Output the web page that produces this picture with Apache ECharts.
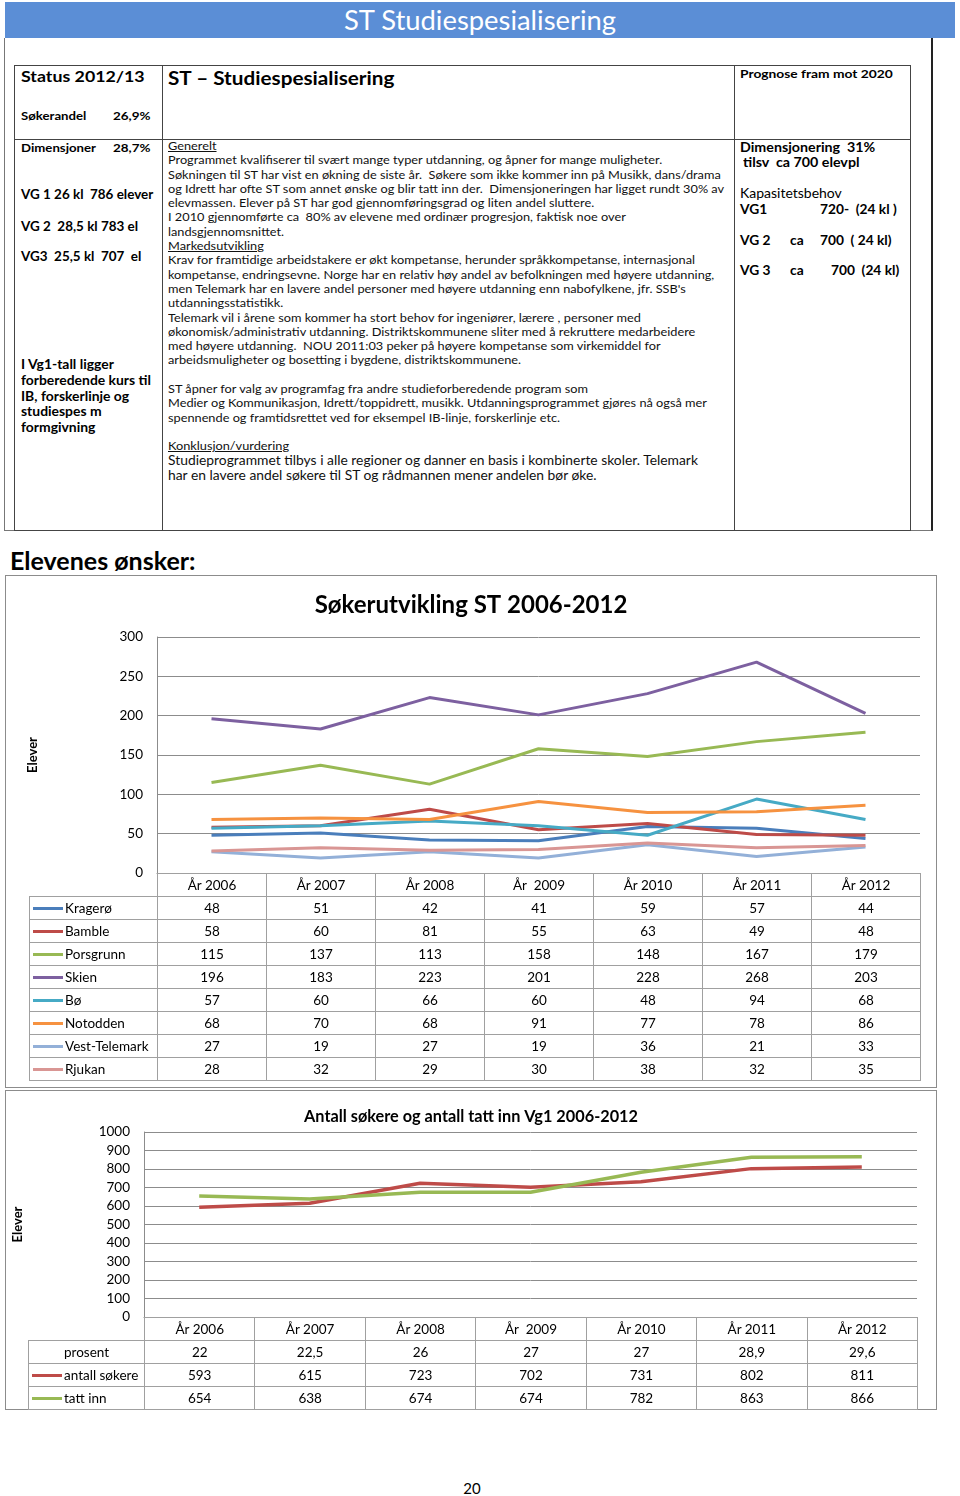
<!DOCTYPE html>
<html>
<head>
<meta charset="utf-8">
<script src="https://cdn.jsdelivr.net/npm/echarts@6/dist/echarts.min.js"></script>
<style>
  html, body { margin: 0; padding: 0; background: #fff; }
  body { position: relative; width: 960px; height: 1496px; overflow: hidden; font-family: Lato, 'Open Sans', sans-serif; color: #000; }
  .abs { position: absolute; }
  .t { position: absolute; white-space: pre; line-height: 16px; transform-origin: 0 0; }
  .b { font-weight: bold; }
  .u { text-decoration: underline; }
  .body-text { position: absolute; white-space: pre; font-size: 11.6px; line-height: 14.3px; color: #111; transform-origin: 0 0; transform: scaleX(1.1); }
  .box { position: absolute; box-sizing: border-box; border: 1px solid #8c8c8c; background: #fff; }
  table.dt { position: absolute; border-collapse: collapse; table-layout: fixed; font-size: 13.5px; }
  table.dt td { border: 1px solid #a0a0a0; height: 22px; padding: 0; text-align: center; white-space: pre; overflow: hidden; }
  table.dt td.blank { border: none; }
  table.dt td.lab { text-align: left; }
  .sw { display: inline-block; width: 30px; height: 3px; vertical-align: middle; margin: 0 2px 0 3px; position: relative; top: -1px; }
</style>
</head>
<body>

<!-- header bar -->
<div class="abs" style="left:5px;top:2px;width:950px;height:36px;background:#5b8ed6;"></div>
<div class="t" style="left:5px;top:4px;width:950px;text-align:center;color:#fff;font-size:27.4px;line-height:32px;">ST Studiespesialisering</div>

<!-- outer frame -->
<div class="abs" style="left:4px;top:38px;width:926px;height:492px;border-left:1px solid #777;border-right:2px solid #222;border-bottom:1px solid #777;"></div>
<!-- inner table frame -->
<div class="abs" style="left:14px;top:65px;width:895px;height:464px;border:1px solid #444;"></div>
<div class="abs" style="left:162px;top:65px;width:1px;height:465px;background:#444;"></div>
<div class="abs" style="left:734px;top:65px;width:1px;height:465px;background:#444;"></div>
<div class="abs" style="left:14px;top:139px;width:896px;height:1px;background:#444;"></div>

<!-- left column -->
<div class="t b" style="left:21px;top:67px;font-size:16px;line-height:18px;transform:scaleX(1.11);">Status 2012/13</div>
<div class="t b" style="left:21px;top:108px;font-size:12px;transform:scaleX(1.1);">Søkerandel</div>
<div class="t b" style="left:113px;top:108px;font-size:12px;transform:scaleX(1.12);">26,9%</div>
<div class="t b" style="left:21px;top:140px;font-size:12px;transform:scaleX(1.1);">Dimensjoner</div>
<div class="t b" style="left:113px;top:140px;font-size:12px;transform:scaleX(1.12);">28,7%</div>
<div class="t b" style="left:21px;top:186px;font-size:12.8px;transform:scaleX(1.05);">VG 1 26 kl  786 elever</div>
<div class="t b" style="left:21px;top:218px;font-size:12.8px;transform:scaleX(1.05);">VG 2  28,5 kl 783 el</div>
<div class="t b" style="left:21px;top:248px;font-size:12.8px;transform:scaleX(1.05);">VG3  25,5 kl  707  el</div>
<div class="t b" style="left:21px;top:357px;font-size:13px;line-height:15.8px;transform:scaleX(1.07);">I Vg1-tall ligger
forberedende kurs til
IB, forskerlinje og
studiespes m
formgivning</div>

<!-- middle column -->
<div class="t b" style="left:168px;top:68px;font-size:18px;line-height:20px;transform:scaleX(1.15);">ST – Studiespesialisering</div>
<div class="body-text" style="left:168px;top:139px;"><span class="u">Generelt</span>
Programmet kvalifiserer til svært mange typer utdanning, og åpner for mange muligheter.
Søkningen til ST har vist en økning de siste år.  Søkere som ikke kommer inn på Musikk, dans/drama
og Idrett har ofte ST som annet ønske og blir tatt inn der.  Dimensjoneringen har ligget rundt 30% av
elevmassen. Elever på ST har god gjennomføringsgrad og liten andel sluttere.
I 2010 gjennomførte ca  80% av elevene med ordinær progresjon, faktisk noe over
landsgjennomsnittet.
<span class="u">Markedsutvikling</span>
Krav for framtidige arbeidstakere er økt kompetanse, herunder språkkompetanse, internasjonal
kompetanse, endringsevne. Norge har en relativ høy andel av befolkningen med høyere utdanning,
men Telemark har en lavere andel personer med høyere utdanning enn nabofylkene, jfr. SSB's
utdanningsstatistikk.
Telemark vil i årene som kommer ha stort behov for ingeniører, lærere , personer med
økonomisk/administrativ utdanning. Distriktskommunene sliter med å rekruttere medarbeidere
med høyere utdanning.  NOU 2011:03 peker på høyere kompetanse som virkemiddel for
arbeidsmuligheter og bosetting i bygdene, distriktskommunene.

ST åpner for valg av programfag fra andre studieforberedende program som
Medier og Kommunikasjon, Idrett/toppidrett, musikk. Utdanningsprogrammet gjøres nå også mer
spennende og framtidsrettet ved for eksempel IB-linje, forskerlinje etc.

<span class="u">Konklusjon/vurdering</span></div>
<div class="body-text" style="left:168px;top:453px;font-size:12.6px;line-height:15px;">Studieprogrammet tilbys i alle regioner og danner en basis i kombinerte skoler. Telemark
har en lavere andel søkere til ST og rådmannen mener andelen bør øke.</div>

<!-- right column -->
<div class="t b" style="left:740px;top:66px;font-size:12px;transform:scaleX(1.15);">Prognose fram mot 2020</div>
<div class="t b" style="left:740px;top:140px;font-size:12.5px;transform:scaleX(1.14);">Dimensjonering  31%</div>
<div class="t b" style="left:743px;top:155px;font-size:12.5px;transform:scaleX(1.14);">tilsv  ca 700 elevpl</div>
<div class="t" style="left:740px;top:186px;font-size:12.5px;transform:scaleX(1.12);">Kapasitetsbehov</div>
<div class="t b" style="left:740px;top:202px;font-size:12.5px;transform:scaleX(1.1);">VG1</div>
<div class="t b" style="left:820px;top:202px;font-size:12.5px;transform:scaleX(1.1);">720-  (24 kl )</div>
<div class="t b" style="left:740px;top:233px;font-size:12.5px;transform:scaleX(1.1);">VG 2</div>
<div class="t b" style="left:790px;top:233px;font-size:12.5px;transform:scaleX(1.1);">ca</div>
<div class="t b" style="left:820px;top:233px;font-size:12.5px;transform:scaleX(1.1);">700  ( 24 kl)</div>
<div class="t b" style="left:740px;top:263px;font-size:12.5px;transform:scaleX(1.1);">VG 3</div>
<div class="t b" style="left:790px;top:263px;font-size:12.5px;transform:scaleX(1.1);">ca</div>
<div class="t b" style="left:831px;top:263px;font-size:12.5px;transform:scaleX(1.1);">700  (24 kl)</div>

<div class="t b" style="left:10px;top:546px;font-size:25px;line-height:28px;">Elevenes ønsker:</div>

<!-- chart 1 -->
<div class="box" style="left:5px;top:575px;width:932px;height:513px;">
  <div id="c1" style="position:absolute;left:0;top:0;width:930px;height:511px;"></div>
</div>
<table class="dt" id="tab1" style="left:29px;top:873px;"></table>

<!-- chart 2 -->
<div class="box" style="left:5px;top:1090px;width:932px;height:320px;">
  <div id="c2" style="position:absolute;left:0;top:0;width:930px;height:318px;"></div>
</div>
<table class="dt" id="tab2" style="left:28px;top:1317px;"></table>

<div class="t" style="left:440px;top:1480px;width:64px;text-align:center;font-size:15px;">20</div>

<script>
// chart 1 data: søkere per region
const years = ['År 2006', 'År 2007', 'År 2008', 'År  2009', 'År 2010', 'År 2011', 'År 2012'];
const kragero = [48, 51, 42, 41, 59, 57, 44];
const bamble = [58, 60, 81, 55, 63, 49, 48];
const porsgrunn = [115, 137, 113, 158, 148, 167, 179];
const skien = [196, 183, 223, 201, 228, 268, 203];
const bo = [57, 60, 66, 60, 48, 94, 68];
const notodden = [68, 70, 68, 91, 77, 78, 86];
const vestTelemark = [27, 19, 27, 19, 36, 21, 33];
const rjukan = [28, 32, 29, 30, 38, 32, 35];
const yTicks1 = [0, 300, 50];

// chart 2 data: Vg1
const prosent = [22, 22.5, 26, 27, 27, 28.9, 29.6];
const antallSokere = [593, 615, 723, 702, 731, 802, 811];
const tattInn = [654, 638, 674, 674, 782, 863, 866];
const yTicks2 = [0, 1000, 100];

const FONT = 'Lato, "Open Sans", sans-serif';

const regions = [
  { name: 'Kragerø', data: kragero, color: '#4a7ebb' },
  { name: 'Bamble', data: bamble, color: '#be4b48' },
  { name: 'Porsgrunn', data: porsgrunn, color: '#98b954' },
  { name: 'Skien', data: skien, color: '#7d60a0' },
  { name: 'Bø', data: bo, color: '#46aac5' },
  { name: 'Notodden', data: notodden, color: '#f69240' },
  { name: 'Vest-Telemark', data: vestTelemark, color: '#93b0d8' },
  { name: 'Rjukan', data: rjukan, color: '#d99694' }
];

const vg1 = [
  { name: 'prosent', data: prosent, color: null, fmt: (v) => String(v).replace('.', ',') },
  { name: 'antall søkere', data: antallSokere, color: '#be4b48' },
  { name: 'tatt inn', data: tattInn, color: '#98b954' }
];

function buildTable(el, firstW, colW, rows, centerLabel) {
  let html = '<colgroup><col style="width:' + firstW + 'px">';
  years.forEach(() => { html += '<col style="width:' + colW + 'px">' });
  html += '</colgroup><tr><td class="blank"></td>';
  years.forEach((y) => { html += '<td>' + y + '</td>' });
  html += '</tr>';
  rows.forEach((r) => {
    const fmt = r.fmt || ((v) => String(v));
    let lab;
    if (r.color) lab = '<td class="lab"><span class="sw" style="background:' + r.color + '"></span>' + r.name + '</td>';
    else lab = '<td' + (centerLabel ? '' : ' class="lab"') + '>' + r.name + '</td>';
    html += '<tr>' + lab;
    r.data.forEach((v) => { html += '<td>' + fmt(v) + '</td>' });
    html += '</tr>';
  });
  el.innerHTML = html;
  el.style.width = (firstW + colW * years.length) + 'px';
}

buildTable(document.getElementById('tab1'), 128, 109, regions, false);
buildTable(document.getElementById('tab2'), 116, 110.43, vg1, true);

function axisY(ticks, gap, margin) {
  return {
    type: 'value',
    min: ticks[0], max: ticks[1], interval: ticks[2],
    name: 'Elever', nameLocation: 'middle', nameGap: gap,
    nameTextStyle: { fontFamily: FONT, fontWeight: 'bold', fontSize: 13, color: '#000' },
    axisLine: { show: true, lineStyle: { color: '#8c8c8c', width: 1 } },
    axisTick: { show: false },
    axisLabel: { fontFamily: FONT, fontSize: 13.5, color: '#000', margin: margin, formatter: (v) => String(v) },
    splitLine: { lineStyle: { color: '#8c8c8c', width: 1 } }
  };
}

const xCat = {
  type: 'category', data: years, boundaryGap: true,
  axisLabel: { show: false }, axisTick: { show: false },
  axisLine: { lineStyle: { color: '#8c8c8c' } }
};

const c1 = echarts.init(document.getElementById('c1'));
c1.setOption({
  animation: false,
  title: {
    text: 'Søkerutvikling ST 2006-2012', left: 'center', top: 12,
    textStyle: { fontFamily: FONT, fontWeight: 'bold', fontSize: 24, color: '#000' }
  },
  grid: { left: 151, top: 61, width: 763, height: 236, outerBoundsMode: 'none' },
  xAxis: xCat,
  yAxis: axisY(yTicks1, 118, 14),
  series: regions.map((r) => ({
    type: 'line', name: r.name, data: r.data, showSymbol: false,
    lineStyle: { color: r.color, width: 3 }, itemStyle: { color: r.color }
  }))
});

const c2 = echarts.init(document.getElementById('c2'));
c2.setOption({
  animation: false,
  title: {
    text: 'Antall søkere og antall tatt inn Vg1 2006-2012', left: 'center', top: 13,
    textStyle: { fontFamily: FONT, fontWeight: 'bold', fontSize: 16.3, color: '#000' }
  },
  grid: { left: 138, top: 41, width: 773, height: 185, outerBoundsMode: 'none' },
  xAxis: xCat,
  yAxis: axisY(yTicks2, 120, 14),
  series: vg1.filter((r) => r.color).map((r) => ({
    type: 'line', name: r.name, data: r.data, showSymbol: false,
    lineStyle: { color: r.color, width: 3.5 }, itemStyle: { color: r.color }
  }))
});
</script>
</body>
</html>
